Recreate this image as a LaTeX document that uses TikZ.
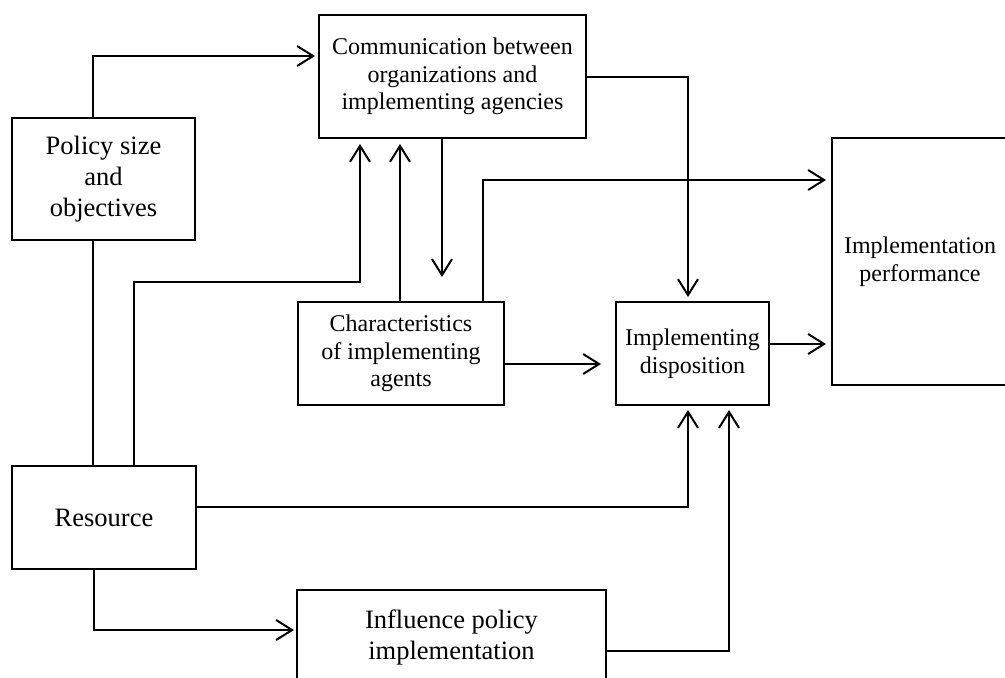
\documentclass[tikz,border=0pt]{standalone}
\usepackage{fontspec}
\setmainfont{Liberation Serif}
\usetikzlibrary{arrows.meta,calc}
\begin{document}
\begin{tikzpicture}[x=1pt,y=-1pt,
  box/.style={draw,line width=2pt,rectangle,inner sep=0pt,align=center,font=\fontsize{24}{27.5}\selectfont},
  bigbox/.style={box,font=\fontsize{26.5}{31}\selectfont},
  conn/.style={line width=2pt},
  arr/.style={conn,-{Straight Barb[length=16pt,width=20pt]}}]
\useasboundingbox (0,0) rectangle (1005,678);
\clip (0,0) rectangle (1005,678);
% nodes
\node[bigbox,minimum width=183pt,minimum height=122pt] (pol) at (103.5,179) {Policy size\\and\\objectives};
\node[box,minimum width=267pt,minimum height=123pt] (comm) at (452.5,76.5) {Communication between\\organizations and\\implementing agencies};
\node[bigbox,minimum width=184pt,minimum height=103pt] (res) at (104,517.5) {Resource};
\node[box,minimum width=206pt,minimum height=103pt] (chr) at (401,353.5) {Characteristics\\of implementing\\agents};
\node[box,minimum width=153pt,minimum height=103pt] (disp) at (692.5,353.5) {Implementing\\disposition};
\node[box,minimum width=176pt,minimum height=247pt] (perf) at (920,261.5) {Implementation\\performance};
\node[bigbox,minimum width=309pt,minimum height=94pt] (infl) at (451.5,637) {Influence policy\\implementation};
% helper coordinates
\coordinate (x93) at (93,0);
\coordinate (x94) at (94,0);
\coordinate (x134) at (134,0);
\coordinate (x360) at (360,0);
\coordinate (x400) at (400,0);
\coordinate (x442) at (442,0);
\coordinate (x483) at (483,0);
\coordinate (x688) at (688,0);
\coordinate (x729) at (729,0);
\coordinate (y56) at (0,56);
\coordinate (y180) at (0,180);
\coordinate (y282) at (0,282);
\coordinate (y344) at (0,344);
\coordinate (y364) at (0,364);
\coordinate (y507) at (0,507);
\coordinate (y630) at (0,630);
\coordinate (y651) at (0,651);
\coordinate (dend) at (442,277);
% connectors
\draw[arr,shorten >=3pt] (pol.north -| x93) |- (comm.west |- y56);
\draw[conn] (pol.south -| x93) -- (res.north -| x93);
\draw[arr,shorten >=5pt] (res.north -| x134) |- (x360 |- y282) -- (comm.south -| x360);
\draw[arr,shorten >=5pt] (chr.north -| x400) -- (comm.south -| x400);
\draw[arr] (comm.south -| x442) -- (dend);
\draw[arr,shorten >=5pt] (chr.north -| x483) |- (perf.west |- y180);
\draw[arr,shorten >=4pt] (comm.east) -| (disp.north -| x688);
\draw[arr,shorten >=14pt] (chr.east |- y364) -- (disp.west |- y364);
\draw[arr,shorten >=5pt] (disp.east |- y344) -- (perf.west |- y344);
\draw[arr,shorten >=4pt] (res.east |- y507) -| (disp.south -| x688);
\draw[arr,shorten >=2pt] (res.south -| x94) |- (infl.west |- y630);
\draw[arr,shorten >=4pt] (infl.east |- y651) -| (disp.south -| x729);
\end{tikzpicture}
\end{document}
